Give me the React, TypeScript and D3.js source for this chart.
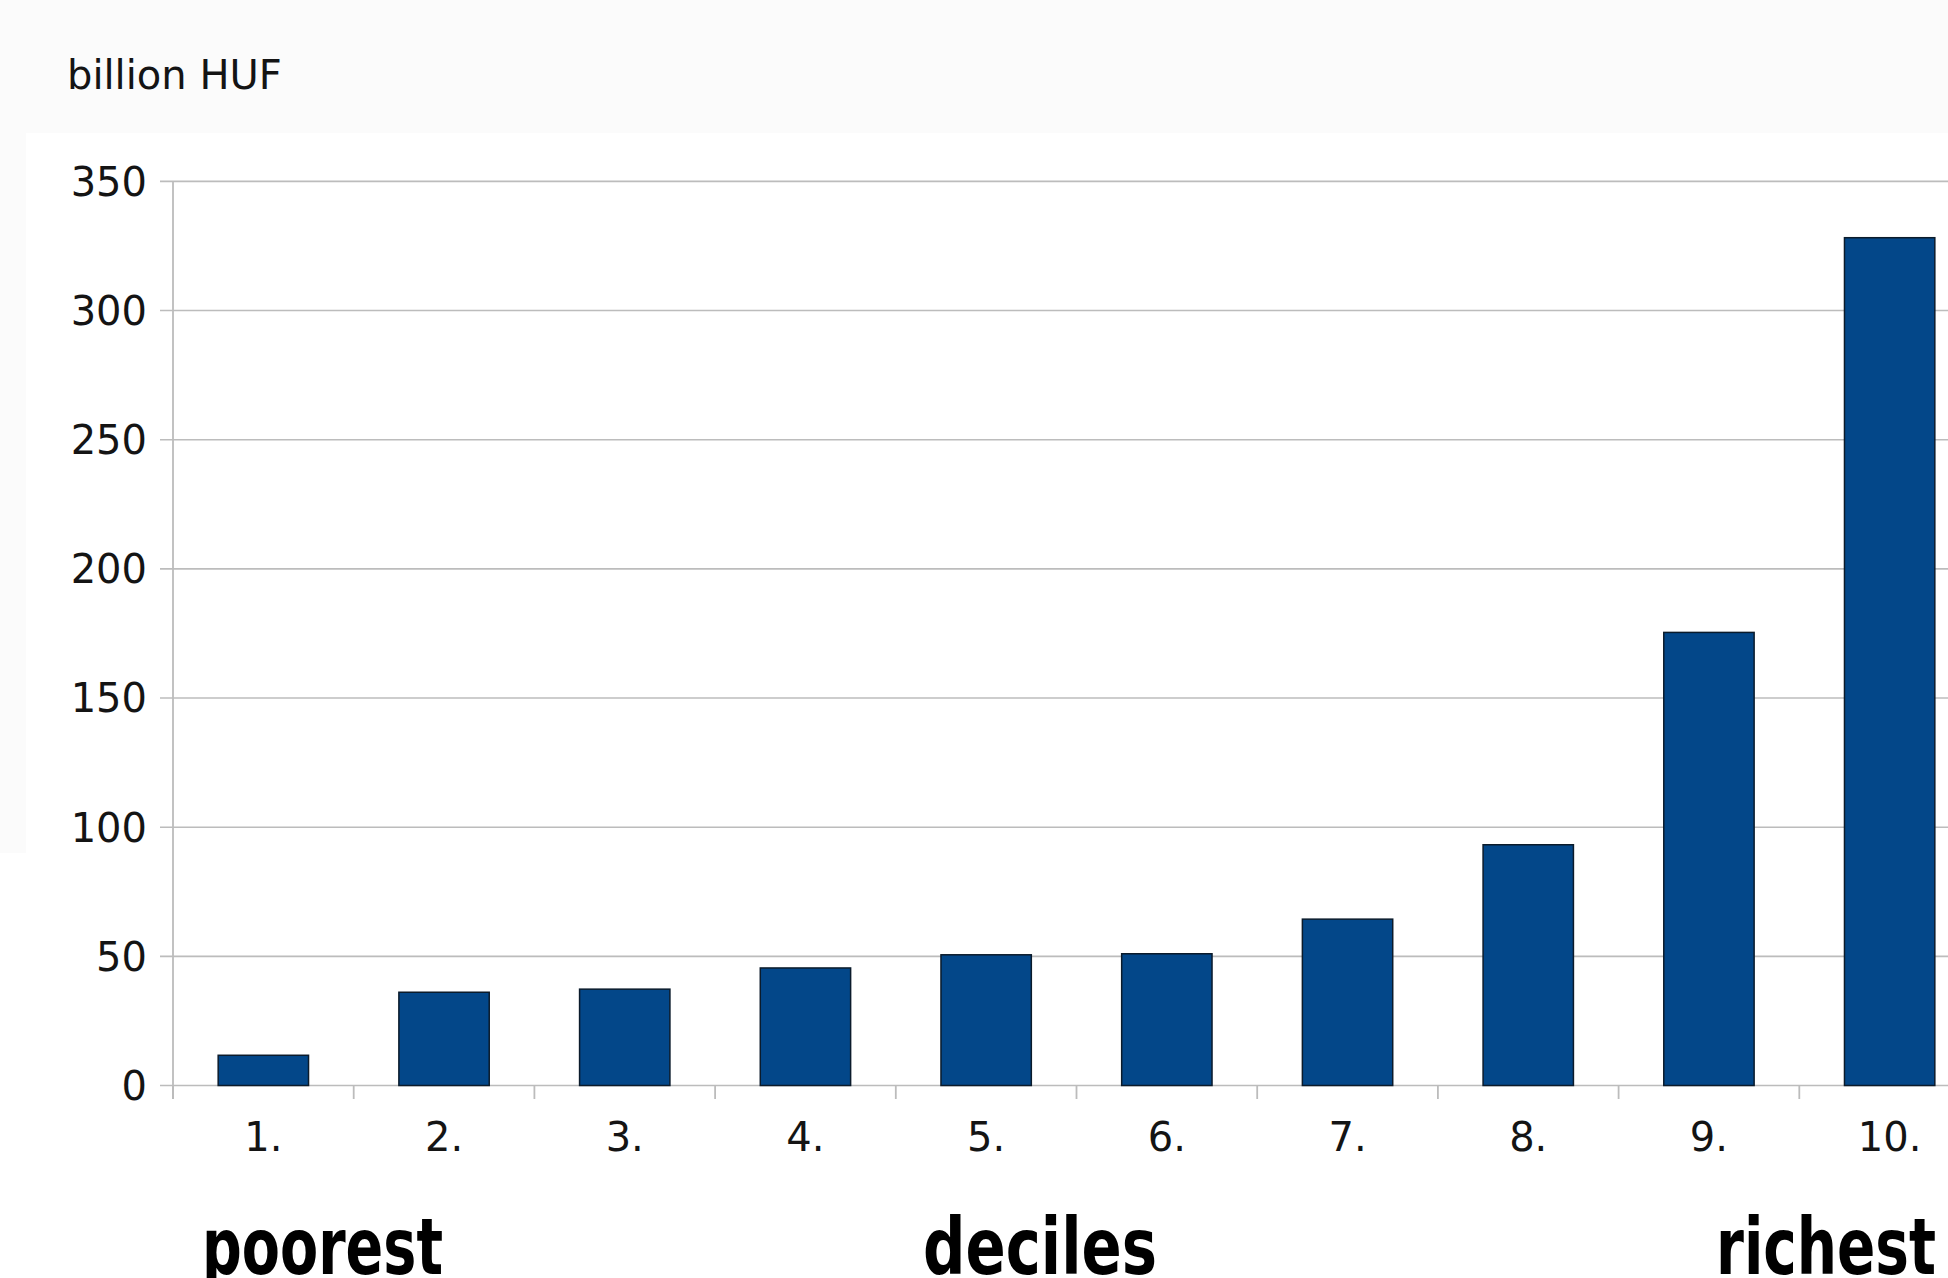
import React from "react";
import * as d3 from "d3";

const categories = ["1.", "2.", "3.", "4.", "5.", "6.", "7.", "8.", "9.", "10."];
const values = [11.7, 36.1, 37.3, 45.5, 50.6, 51.0, 64.4, 93.2, 175.4, 328.2];
const yTicks = [0, 50, 100, 150, 200, 250, 300, 350];
const unitLabel = "billion HUF";
const bottomLabels = ["poorest", "deciles", "richest"];

const W = 1948;
const H = 1278;

export default function App() {
  const x = d3
    .scaleBand<string>()
    .domain(categories)
    .range([173, 1980])
    .paddingInner(0.5)
    .paddingOuter(0.25);
  const y = d3.scaleLinear().domain([0, 350]).range([1085.5, 181.4]);
  const step = x.step();
  const x0 = 173;
  const grid = "#bcbcbc";
  const tickFont = "'DejaVu Sans', 'Open Sans', sans-serif";
  const boldFont = "'Liberation Sans Narrow', 'DejaVu Sans Condensed', 'Liberation Sans', sans-serif";
  const bottomX = [202, 923, 1716];
  const bottomW = [241, 234, 220];

  return (
    <svg
      width={W}
      height={H}
      style={{ position: "absolute", left: 0, top: 0, background: "#ffffff" }}
    >
      <rect x={0} y={0} width={W} height={133} fill="#fbfbfb" />
      <rect x={0} y={133} width={26} height={720} fill="#fbfbfb" />
      <text
        x={67}
        y={89}
        fontFamily={tickFont}
        fontSize={40}
        fontWeight={400}
        fill="#141414"
      >
        {unitLabel}
      </text>

      {yTicks.map((t) => (
        <g key={t}>
          <line x1={160} x2={W} y1={y(t)} y2={y(t)} stroke={grid} strokeWidth={1.6} />
          <text
            x={147}
            y={y(t)}
            dy="0.36em"
            textAnchor="end"
            fontFamily={tickFont}
            fontSize={40}
            fontWeight={400}
            fill="#141414"
          >
            {t}
          </text>
        </g>
      ))}

      <line x1={x0} x2={x0} y1={y(350)} y2={1099} stroke={grid} strokeWidth={1.8} />
      {categories.map((c, i) => (
        <line
          key={"t" + c}
          x1={x0 + i * step}
          x2={x0 + i * step}
          y1={y(0)}
          y2={1099}
          stroke={grid}
          strokeWidth={1.8}
        />
      ))}

      {categories.map((c, i) => (
        <rect
          key={"b" + c}
          x={x(c)!}
          y={y(values[i])}
          width={x.bandwidth()}
          height={y(0) - y(values[i])}
          fill="#034789"
          stroke="#0b1b2b"
          strokeWidth={1.5}
        />
      ))}

      {categories.map((c) => (
        <text
          key={"l" + c}
          x={x(c)! + x.bandwidth() / 2}
          y={1151}
          textAnchor="middle"
          fontFamily={tickFont}
          fontSize={40}
          fontWeight={400}
          fill="#141414"
        >
          {c}
        </text>
      ))}

      {bottomLabels.map((s, i) => (
        <text
          key={s}
          x={bottomX[i]}
          y={1274}
          fontFamily={boldFont}
          fontWeight={700}
          fontSize={78}
          textLength={bottomW[i]}
          lengthAdjust="spacingAndGlyphs"
          fill="#000"
        >
          {s}
        </text>
      ))}
    </svg>
  );
}
